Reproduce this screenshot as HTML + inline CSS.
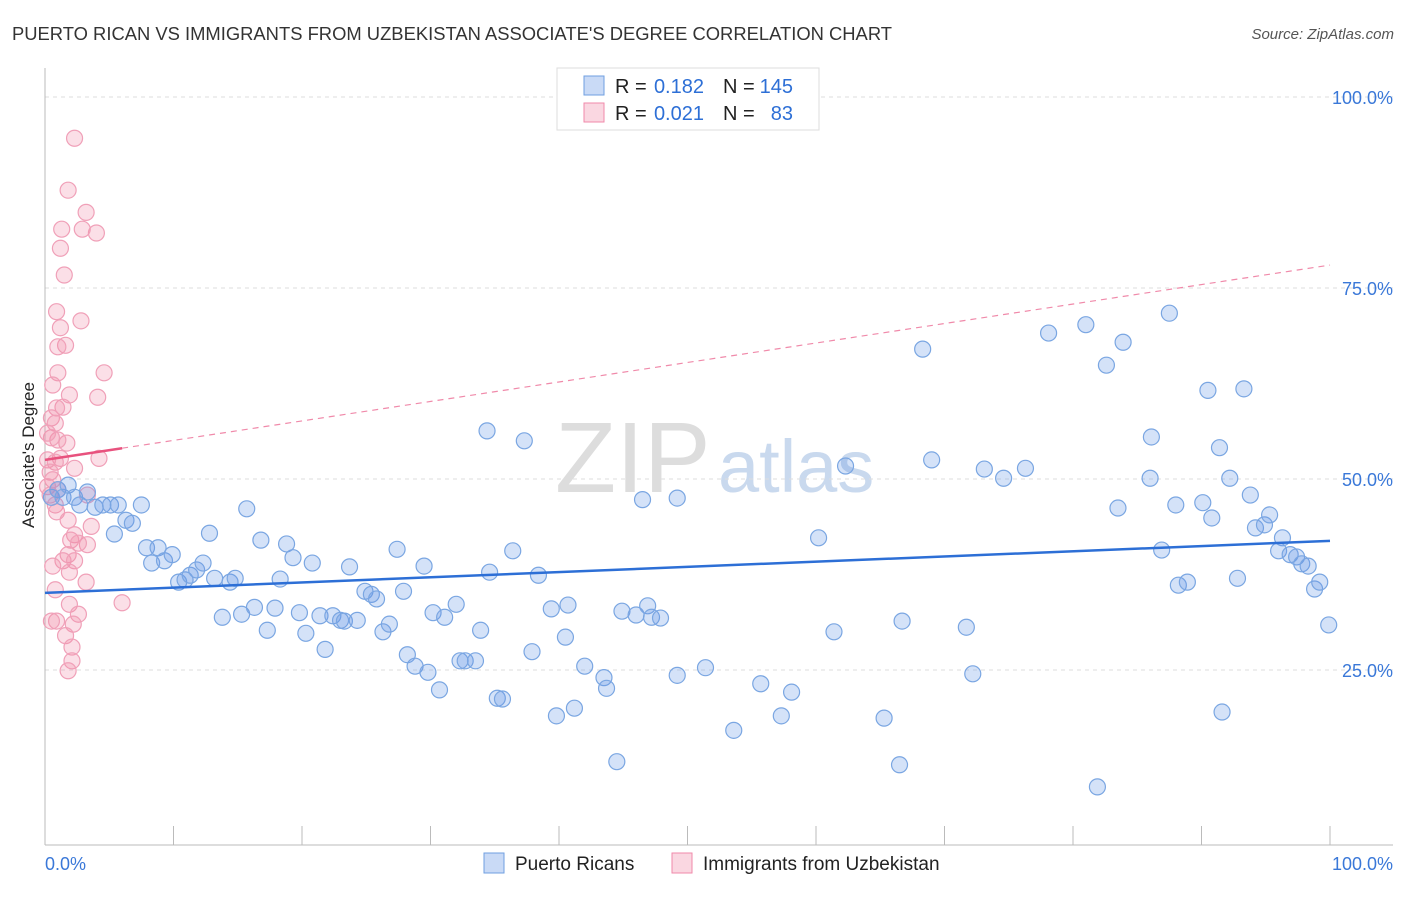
<!DOCTYPE html>
<html><head><meta charset="utf-8"><style>
body{margin:0;background:#fff;font-family:"Liberation Sans",sans-serif;}
svg text{font-family:"Liberation Sans",sans-serif;}
</style></head><body>
<svg id="chart" width="1406" height="892">
<text x="12" y="40" font-size="18" fill="#333" textLength="880" lengthAdjust="spacingAndGlyphs">PUERTO RICAN VS IMMIGRANTS FROM UZBEKISTAN ASSOCIATE'S DEGREE CORRELATION CHART</text>
<text x="1394" y="39" font-size="15" fill="#555" text-anchor="end" font-style="italic">Source: ZipAtlas.com</text>
<text x="555" y="492" font-size="100" fill="#ddd" font-family="Liberation Serif">ZIP</text>
<text x="718" y="492" font-size="74" fill="#c9d9ee">atlas</text>
<text x="34" y="455" font-size="17" fill="#222" text-anchor="middle" transform="rotate(-90 34 455)">Associate's Degree</text>
<g id="grid"></g><g id="marks"></g>
<g>
<rect x="557" y="68" width="262" height="62" fill="#fff" stroke="#ddd"/>
<rect x="584" y="76" width="20" height="19" fill="rgba(100,150,230,0.35)" stroke="#6f9fe0"/>
<text x="615" y="93" font-size="20" fill="#222">R =</text>
<text x="704" y="93" font-size="20" fill="#2d6fd6" text-anchor="end">0.182</text>
<text x="723" y="93" font-size="20" fill="#222">N =</text>
<text x="793" y="93" font-size="20" fill="#2d6fd6" text-anchor="end">145</text>
<rect x="584" y="103" width="20" height="19" fill="rgba(240,140,170,0.35)" stroke="#f08aaa"/>
<text x="615" y="120" font-size="20" fill="#222">R =</text>
<text x="704" y="120" font-size="20" fill="#2d6fd6" text-anchor="end">0.021</text>
<text x="723" y="120" font-size="20" fill="#222">N =</text>
<text x="793" y="120" font-size="20" fill="#2d6fd6" text-anchor="end">83</text>
</g>
<g>
<rect x="484" y="853" width="20" height="20" fill="rgba(100,150,230,0.35)" stroke="#6f9fe0"/>
<text x="515" y="870" font-size="19" fill="#222">Puerto Ricans</text>
<rect x="672" y="853" width="20" height="20" fill="rgba(240,140,170,0.35)" stroke="#f08aaa"/>
<text x="703" y="870" font-size="19" fill="#222">Immigrants from Uzbekistan</text>
</g>
</svg>
<script>
const blueX=[0.5,1.0,1.4,1.8,2.3,2.7,3.3,3.9,4.5,5.1,5.7,6.3,6.8,7.5,5.4,7.9,8.3,8.8,9.3,9.9,10.4,10.9,11.3,11.8,12.3,12.8,13.2,13.8,14.4,14.8,15.3,15.7,16.3,16.8,17.3,17.9,18.3,18.8,19.3,19.8,20.3,20.8,21.4,21.8,22.4,23.0,23.3,23.7,24.3,24.9,25.4,25.8,26.3,26.8,27.4,27.9,28.2,28.8,29.5,29.8,30.2,30.7,31.1,32.0,32.3,32.7,33.5,33.9,34.4,34.6,35.2,35.6,36.4,37.3,37.9,38.4,39.4,39.8,40.5,40.7,41.2,42.0,43.5,43.7,44.5,44.9,46.0,46.5,46.9,47.2,47.9,49.2,49.2,51.4,53.6,55.7,57.3,58.1,60.2,61.4,62.3,65.3,66.7,66.5,68.3,69.0,71.7,72.2,73.1,74.6,76.3,78.1,81.0,81.9,82.6,83.5,83.9,86.0,86.1,86.9,87.5,88.2,88.0,88.9,90.1,90.5,90.8,91.4,91.6,92.2,92.8,93.3,93.8,94.2,94.9,95.3,96.3,96.0,96.9,97.4,97.8,98.3,98.8,99.2,99.9];
const blueY=[47.6,48.6,47.6,49.2,47.6,46.6,48.3,46.3,46.6,46.6,46.6,44.6,44.2,46.6,42.8,41.0,39.0,41.0,39.3,40.1,36.5,36.8,37.4,38.1,39.0,42.9,37.0,31.9,36.5,37.0,32.3,46.1,33.2,42.0,30.2,33.1,36.9,41.5,39.7,32.5,29.8,39.0,32.1,27.7,32.1,31.5,31.4,38.5,31.5,35.3,34.9,34.3,30.0,31.0,40.8,35.3,27.0,25.5,38.6,24.7,32.5,22.4,31.9,33.6,26.2,26.2,26.2,30.2,56.3,37.8,21.3,21.2,40.6,55.0,27.4,37.4,33.0,19.0,29.3,33.5,20.0,25.5,24.0,22.6,13.0,32.7,32.2,47.3,33.4,31.9,31.8,47.5,24.3,25.3,17.1,23.2,19.0,22.1,42.3,30.0,51.7,18.7,31.4,12.6,67.0,52.5,30.6,24.5,51.3,50.1,51.4,69.1,70.2,9.7,64.9,46.2,67.9,50.1,55.5,40.7,71.7,36.1,46.6,36.5,46.9,61.6,44.9,54.1,19.5,50.1,37.0,61.8,47.9,43.6,44.0,45.3,42.3,40.6,40.1,39.8,38.9,38.6,35.6,36.5,30.9];
const pinkX=[2.3,1.8,3.2,1.3,4.0,2.9,1.2,1.5,0.9,2.8,1.2,1.6,1.0,4.6,1.0,0.6,1.9,4.1,1.4,0.9,0.5,0.8,1.7,1.0,0.5,0.2,1.2,4.2,0.2,0.8,2.3,0.4,0.6,0.2,1.0,3.3,0.4,0.8,0.9,1.8,3.6,2.3,2.0,3.3,2.6,1.8,1.4,2.3,0.6,1.9,3.2,0.8,1.9,6.0,2.6,0.9,0.5,2.2,1.6,2.1,2.1,1.8];
const pinkY=[94.6,87.8,84.9,82.7,82.2,82.7,80.2,76.7,71.9,70.7,69.8,67.5,67.3,63.9,63.9,62.3,61.0,60.7,59.4,59.3,58.0,57.3,54.7,55.1,55.4,56.0,52.7,52.7,52.5,52.2,51.4,50.9,49.9,49.0,48.6,47.9,47.9,46.6,45.7,44.6,43.8,42.7,42.0,41.4,41.6,40.1,39.3,39.3,38.6,37.8,36.5,35.5,33.6,33.8,32.3,31.4,31.4,31.0,29.5,28.0,26.2,24.9];
const blueLine=[35.1,41.9];
const pinkLine=[52.5,78.0];
const yTicks=[25,50,75,100];
const xTicks=[0,10,20,30,40,50,60,70,80,90,100];
const NS='http://www.w3.org/2000/svg';
const sx=v=>45+v*12.85, sy=v=>861-v*7.64;
function mk(tag,attrs,parent){const e=document.createElementNS(NS,tag);for(const k in attrs)e.setAttribute(k,attrs[k]);parent.appendChild(e);return e;}
const grid=document.getElementById('grid'), marks=document.getElementById('marks');
yTicks.forEach(t=>{
 const l=mk('line',{x1:45,x2:1393,y1:sy(t),y2:sy(t),stroke:'#ddd','stroke-dasharray':'4,4'},grid);
 
 
 const tx=mk('text',{x:1393,y:sy(t)+7,'font-size':18,fill:'#3a78d8','text-anchor':'end'},grid);
 tx.textContent=t.toFixed(1)+'%';
 
 
});
const ax=mk('line',{x1:45,x2:1393,y1:845,y2:845,stroke:'#bbb'},grid);


const ay=mk('line',{x1:45,x2:45,y1:68,y2:845,stroke:'#bbb'},grid);


xTicks.forEach(t=>{
 const l=mk('line',{x1:sx(t),x2:sx(t),y1:826,y2:845,stroke:'#bbb'},grid);
 
 
});
[[0,'start',45],[100,'end',1393]].forEach(([v,a,x])=>{
 const tx=mk('text',{x:x,y:870,'font-size':18,fill:'#3a78d8','text-anchor':a},grid);
 tx.textContent=v.toFixed(1)+'%';
 
 
});
function dots(X,Y,fill,stroke,name){X.forEach((x,i)=>{
 const c=mk('circle',{cx:sx(x),cy:sy(Y[i]),r:8,fill:fill,stroke:stroke,'stroke-width':1.2},marks);
 
 
});}
dots(pinkX,pinkY,'rgba(240,140,170,0.28)','#f0a0b8','uzbekistan-point');
dots(blueX,blueY,'rgba(100,150,230,0.28)','#7aa6e2','puerto-rican-point');
const bl=mk('line',{x1:sx(0),y1:sy(blueLine[0]),x2:sx(100),y2:sy(blueLine[1]),stroke:'#2d6fd6','stroke-width':2.5},marks);


const pyAt=x=>pinkLine[0]+(pinkLine[1]-pinkLine[0])*x/100;
const pd=mk('line',{x1:sx(6),y1:sy(pyAt(6)),x2:sx(100),y2:sy(pinkLine[1]),stroke:'#f08aaa','stroke-width':1.2,'stroke-dasharray':'6,5'},marks);


const ps=mk('line',{x1:sx(0),y1:sy(pinkLine[0]),x2:sx(6),y2:sy(pyAt(6)),stroke:'#e8527e','stroke-width':2.5},marks);


</script>
</body></html>
